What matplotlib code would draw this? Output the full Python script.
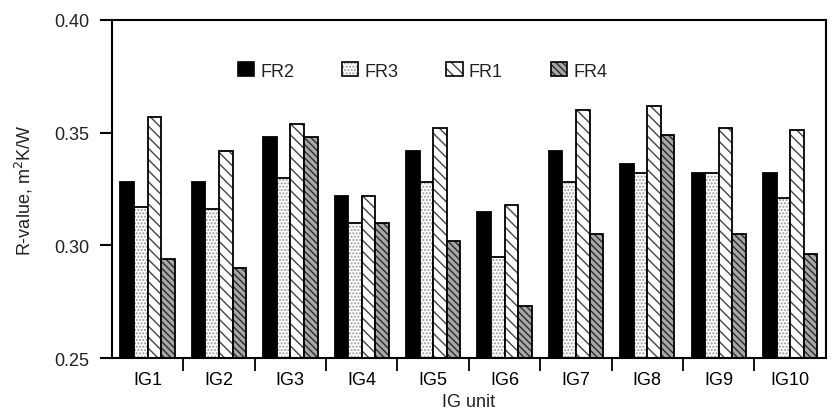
import numpy as np
import matplotlib
matplotlib.use('Agg')
from matplotlib import pyplot as plt
from matplotlib.patches import Patch

plt.rcParams['font.family'] = ['Liberation Sans', 'DejaVu Sans']
plt.rcParams['font.size'] = 13
plt.rcParams['hatch.linewidth'] = 1.0

units = ['IG1', 'IG2', 'IG3', 'IG4', 'IG5', 'IG6', 'IG7', 'IG8', 'IG9', 'IG10']
fr2 = [0.328, 0.328, 0.348, 0.322, 0.342, 0.315, 0.342, 0.336, 0.332, 0.332]
fr3 = [0.317, 0.316, 0.330, 0.310, 0.328, 0.295, 0.328, 0.332, 0.332, 0.321]
fr1 = [0.357, 0.342, 0.354, 0.322, 0.352, 0.318, 0.360, 0.362, 0.352, 0.351]
fr4 = [0.294, 0.290, 0.348, 0.310, 0.302, 0.273, 0.305, 0.349, 0.305, 0.296]

# (label, values, face, hatch, hatch colour)
series = [
    ('FR2', fr2, 'black', None, 'black'),
    ('FR3', fr3, 'white', '.....', '#9a9a9a'),
    ('FR1', fr1, 'white', '\\\\\\', '#444444'),
    ('FR4', fr4, '#a8a8a8', '\\\\\\\\\\', '#2a2a2a'),
]

fig = plt.figure(figsize=(8.35, 4.1), dpi=100)
ax = fig.add_axes([0.134, 0.124, 0.855, 0.825])

x = np.arange(len(units))
w = 0.19
handles = []
for i, (lab, vals, face, hatch, hc) in enumerate(series):
    pos = x + (i - 1.5) * w
    # hatch layer first, then black outline on top
    ax.bar(pos, vals, w, color=face, edgecolor=hc, hatch=hatch, linewidth=0)
    ax.bar(pos, vals, w, fill=False, edgecolor='black', linewidth=1.3)
    handles.append((Patch(facecolor=face, edgecolor=hc, hatch=hatch, linewidth=0),
                    Patch(fill=False, edgecolor='black', linewidth=1.2)))

ax.set_ylim(0.25, 0.40)
ax.set_xlim(-0.5, len(units) - 0.5)
ax.set_yticks([0.25, 0.30, 0.35, 0.40])
ax.set_yticklabels(['0.25', '0.30', '0.35', '0.40'])
ax.set_xticks(np.arange(0.5, len(units) - 0.5, 1.0))
ax.set_xticklabels([])
ax.set_xticks(x, minor=True)
ax.set_xticklabels(units, minor=True)
ax.tick_params(axis='x', which='minor', length=0, pad=9)
ax.tick_params(axis='x', which='major', length=9, width=1.3, direction='out')
ax.tick_params(axis='y', length=9, width=1.5, direction='out', pad=7)
ax.tick_params(labelcolor='#222222', labelsize=13)
for s in ax.spines.values():
    s.set_linewidth(1.5)

ax.set_ylabel('R-value, m$^2$K/W', color='#222222', labelpad=14)
ax.set_xlabel('IG unit', color='#222222', labelpad=4)

leg = ax.legend(handles, [s[0] for s in series], loc='center left', bbox_to_anchor=(0.176, 0.849),
                ncol=4, frameon=False, handlelength=0.9, handleheight=0.8,
                columnspacing=2.65, handletextpad=0.35, fontsize=13,
                borderpad=0, borderaxespad=0)
for t in leg.get_texts():
    t.set_color('#222222')

fig.savefig('out.png', dpi=100)
